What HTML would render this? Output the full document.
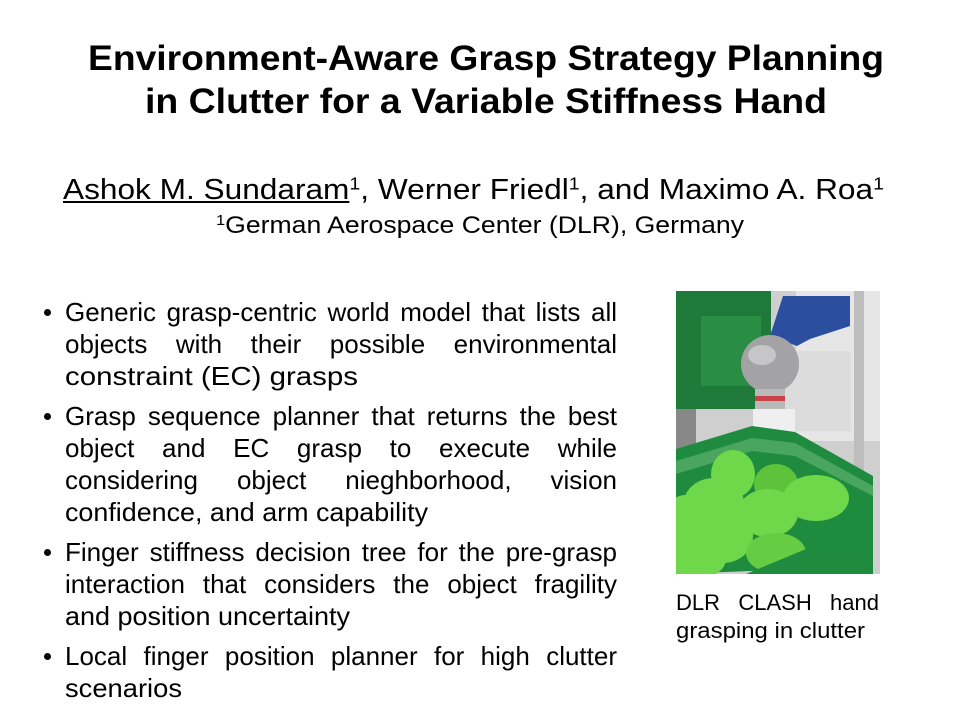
<!DOCTYPE html>
<html><head><meta charset="utf-8"><style>
body{margin:0;width:960px;height:720px;background:#fff;position:relative;overflow:hidden;font-family:"Liberation Sans",Arial,sans-serif;color:#000}
.c{position:absolute;white-space:nowrap;transform-origin:0 0}
#t1{top:39px;left:88px;font-size:35px;font-weight:bold;line-height:40px}
#t2{top:82px;left:145px;font-size:35px;font-weight:bold;line-height:40px}
#authors{top:175px;left:63px;font-size:28.5px;line-height:30px}
#aff{top:212px;left:216px;font-size:24px;line-height:28px}
sup{font-size:0.62em;vertical-align:0.55em;line-height:0}
.bl{position:absolute;left:65px;font-size:26px;line-height:32px;white-space:nowrap}
.j{width:552px;text-align:justify;text-align-last:justify;white-space:normal}
.s{transform-origin:0 0}
.dot{position:absolute;left:44px;width:7px;height:7px;border-radius:50%;background:#000}
</style></head><body>
<div class="c" id="t1" data-w="796">Environment-Aware Grasp Strategy Planning</div>
<div class="c" id="t2" data-w="682">in Clutter for a Variable Stiffness Hand</div>
<div class="c" id="authors" data-w="821"><u>Ashok M. Sundaram</u><sup>1</sup>, Werner Friedl<sup>1</sup>, and Maximo A. Roa<sup>1</sup></div>
<div class="c" id="aff" data-w="528"><sup>1</sup>German Aerospace Center (DLR), Germany</div>

<div>
<div class="dot" style="top:309px"></div>
<div class="bl j" style="top:296px">Generic grasp-centric world model that lists all</div>
<div class="bl j" style="top:328px">objects with their possible environmental</div>
<div class="bl s" style="top:360px" data-w="293">constraint (EC) grasps</div>

<div class="dot" style="top:413px"></div>
<div class="bl j" style="top:400px">Grasp sequence planner that returns the best</div>
<div class="bl j" style="top:432px">object and EC grasp to execute while</div>
<div class="bl j" style="top:464px">considering object nieghborhood, vision</div>
<div class="bl s" style="top:496px" data-w="363">confidence, and arm capability</div>

<div class="dot" style="top:549px"></div>
<div class="bl j" style="top:536px">Finger stiffness decision tree for the pre-grasp</div>
<div class="bl j" style="top:568px">interaction that considers the object fragility</div>
<div class="bl s" style="top:600px" data-w="285">and position uncertainty</div>

<div class="dot" style="top:653px"></div>
<div class="bl j" style="top:640px">Local finger position planner for high clutter</div>
<div class="bl s" style="top:672px" data-w="117">scenarios</div>
</div>

<svg style="position:absolute;left:676px;top:291px" width="204" height="283" viewBox="0 0 204 283">
<rect width="204" height="283" fill="#cfcfcf"/>
<rect x="120" y="0" width="84" height="150" fill="#e6e6e6"/>
<rect x="178" y="0" width="10" height="283" fill="#bdbdbd"/>
<rect x="90" y="60" width="85" height="80" fill="#dcdcdc"/>
<rect x="0" y="0" width="95" height="118" fill="#1f7a3a"/>
<rect x="25" y="25" width="60" height="70" fill="#2a8d44"/>
<rect x="0" y="118" width="20" height="60" fill="#888"/>
<polygon points="107,5 174,5 174,35 134,48 121,55 94,45" fill="#2b4f9e"/>
<circle cx="94" cy="73" r="29" fill="#a3a3a6"/>
<ellipse cx="86" cy="64" rx="14" ry="10" fill="#c6c6c9"/>
<rect x="79" y="98" width="30" height="20" fill="#b9b9b9"/>
<rect x="79" y="105" width="30" height="5" fill="#c8414a"/>
<rect x="77" y="118" width="42" height="48" fill="#efefef"/>
<rect x="86" y="160" width="8" height="50" fill="#e5e5e5"/>
<rect x="106" y="160" width="8" height="45" fill="#e5e5e5"/>
<polygon points="0,158 76,135 119,141 197,185 197,275 0,283" fill="#1f8b3f"/>
<polygon points="0,170 76,147 119,152 197,195 197,205 119,165 76,160 0,183" fill="#4aa55f"/>
<ellipse cx="100" cy="193" rx="22" ry="20" fill="#5fc23b"/>
<ellipse cx="57" cy="183" rx="22" ry="24" fill="#6fd84a"/>
<ellipse cx="140" cy="207" rx="33" ry="23" fill="#6fd84a"/>
<ellipse cx="38" cy="212" rx="30" ry="25" fill="#6fd84a"/>
<ellipse cx="92" cy="222" rx="30" ry="24" fill="#6fd84a"/>
<ellipse cx="10" cy="230" rx="24" ry="26" fill="#6fd84a"/>
<ellipse cx="47" cy="245" rx="30" ry="27" fill="#6fd84a"/>
<ellipse cx="20" cy="268" rx="30" ry="20" fill="#6fd84a"/>
<ellipse cx="100" cy="262" rx="30" ry="20" fill="#66cc44"/>
<polygon points="70,283 197,230 197,283" fill="#1f8b3f"/>
</svg>
<div>
<div class="bl j" style="left:676px;top:589px;width:203px;font-size:22px;line-height:28px">DLR CLASH hand</div>
<div class="bl s" style="left:676px;top:617px;font-size:22px;line-height:28px" data-w="189">grasping in clutter</div>
</div>
<script>
document.querySelectorAll('[data-w]').forEach(function(el){
  el.style.display='inline-block';
  var r=el.getBoundingClientRect().width;
  var w=+el.getAttribute('data-w');
  if(r>0) el.style.transform='scaleX('+(w/r)+')';
});
</script>
</body></html>
